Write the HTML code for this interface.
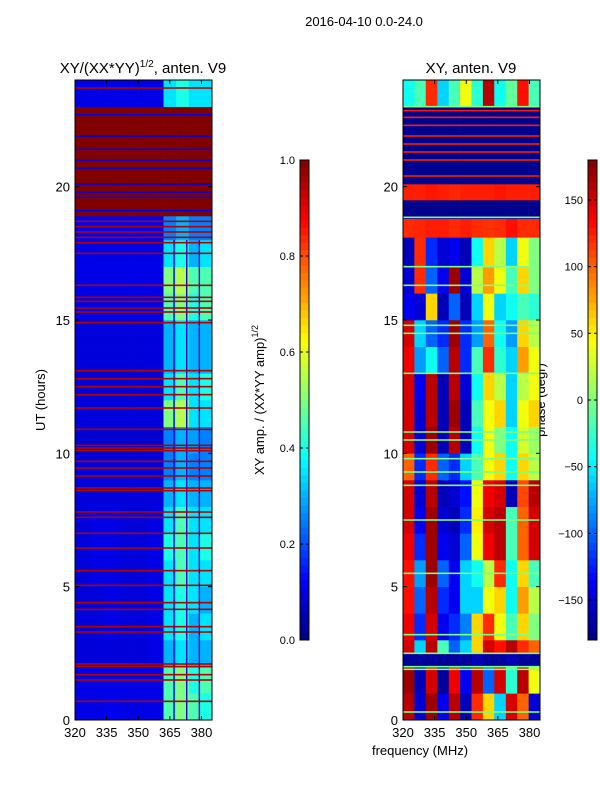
<!DOCTYPE html>
<html><head><meta charset="utf-8">
<style>
html,body{margin:0;padding:0;background:#fff;}
svg{display:block;font-family:"Liberation Sans",sans-serif;}
</style></head>
<body>
<svg id="fig" width="600" height="800" viewBox="0 0 600 800" xmlns="http://www.w3.org/2000/svg">
  <text x="364" y="26" font-size="13" text-anchor="middle">2016-04-10 0.0-24.0</text>
  <text x="143" y="73" font-size="15" text-anchor="middle">XY/(XX*YY)<tspan font-size="10" dy="-6">1/2</tspan><tspan dy="6">, anten. V9</tspan></text>
  <text x="471" y="73" font-size="15" text-anchor="middle">XY, anten. V9</text>
  <text transform="translate(45,400) rotate(-90)" font-size="13" text-anchor="middle">UT (hours)</text>
  <text x="420" y="755" font-size="13" text-anchor="middle">frequency (MHz)</text>
  <text transform="translate(264,400) rotate(-90)" font-size="13" text-anchor="middle">XY amp. / (XX*YY amp)<tspan font-size="9" dy="-6">1/2</tspan></text>
  <text transform="translate(545,400) rotate(-90)" font-size="13" text-anchor="middle">phase (degr)</text>
  <g id="left"></g><g id="right"></g><g id="cbars"></g>
</svg>
<script>
// ---------- data ----------
const timeTicks = [0,5,10,15,20];
const freqTicks = [320,335,350,365,380];
const ampTicks = [0.0,0.2,0.4,0.6,0.8,1.0];
const phaseTicks = [-150,-100,-50,0,50,100,150];

// left panel: amplitude ratio
const leftColEdges = [320,327,334,341,348,355,362,368,374,379,385];
const leftRowEdges = [0,1,2,3,4,5,6,7,8,9,10,11,12,13,14,15,16,17,18,18.9,20,21,22,23,24];
const leftValues = [
 [.1,.1,.11,.1,.1,.1,.45,.5,.45,.4],
 [.1,.1,.1,.1,.1,.1,.45,.5,.4,.45],
 [.09,.09,.09,.09,.09,.1,.3,.35,.3,.3],
 [.09,.09,.1,.09,.09,.1,.35,.4,.3,.35],
 [.09,.09,.1,.09,.09,.1,.35,.4,.35,.3],
 [.09,.1,.1,.09,.09,.1,.35,.45,.35,.35],
 [.09,.1,.1,.09,.09,.1,.4,.45,.35,.4],
 [.09,.1,.1,.09,.09,.1,.35,.45,.35,.35],
 [.09,.09,.09,.09,.09,.09,.3,.35,.3,.3],
 [.09,.09,.09,.09,.09,.09,.25,.3,.25,.25],
 [.08,.08,.08,.08,.08,.08,.25,.3,.28,.25],
 [.09,.09,.09,.09,.09,.09,.5,.55,.35,.35],
 [.09,.09,.09,.09,.09,.09,.35,.45,.35,.4],
 [.09,.09,.09,.09,.09,.09,.3,.35,.3,.3],
 [.09,.09,.09,.09,.09,.09,.3,.35,.3,.3],
 [.1,.1,.1,.1,.1,.1,.45,.5,.4,.45],
 [.1,.1,.1,.1,.1,.1,.5,.55,.45,.45],
 [.1,.1,.1,.1,.1,.1,.35,.4,.3,.35],
 [.11,.11,.11,.11,.11,.11,.25,.3,.25,.25],
 [1,1,1,1,1,1,1,1,1,1],
 [1,1,1,1,1,1,1,1,1,1],
 [1,1,1,1,1,1,1,1,1,1],
 [1,1,1,1,1,1,1,1,1,1],
 [.1,.1,.1,.1,.1,.1,.35,.4,.35,.35]
];
const leftRedLines = [0.7,1.5,1.7,2.0,2.1,3.3,3.5,4.15,4.4,5.05,5.6,6.45,7.0,7.6,7.8,8.6,8.7,9.15,9.45,9.7,10.1,10.2,10.3,10.9,11.7,12.2,12.5,12.8,13.1,14.9,15.3,15.45,15.7,15.85,16.3,17.5,17.9,18.1,18.3,18.5,18.7,23.7];
const leftBlueLines = [19.1,19.6,19.8,20.1,20.7,21.0,21.4,21.9,22.7];
const leftGapFreqs = [367,373,379];

// right panel: phase (deg)
const rightColEdges = [320,325.4,330.8,336.3,341.7,347.1,352.5,357.9,363.3,368.8,374.2,379.6,385];
const rightRowEdges = [0,1,2,2.5,3,4,5,6,7,8,9,10,11,12,13,14,15,16,17,18.1,18.8,19.5,20.1,23,24];
const rightValues = [
 [160,-150,170,-140,160,-160,120,60,-60,150,100,-150],
 [170,-160,150,-170,140,-140,160,-100,150,-30,160,40],
 [-170,-170,-170,-170,-170,-170,-160,-170,-170,-160,-170,-170],
 [150,-60,160,-20,-100,-60,60,150,130,160,120,100],
 [140,-120,150,-140,-120,-90,60,120,40,-20,60,0],
 [130,-100,160,-120,-140,-60,-60,40,60,-40,80,20],
 [130,-80,170,-100,-140,-60,-40,20,120,-40,60,-20],
 [140,-120,170,-140,-150,-100,40,140,160,-20,100,150],
 [150,-140,170,-150,-160,-120,50,150,160,-20,100,150],
 [150,-150,160,-160,-150,-130,40,140,150,-160,110,160],
 [100,-120,120,-100,-120,-60,-20,40,60,-40,60,20],
 [150,-150,170,-160,160,-160,-40,40,0,-40,30,10],
 [150,-150,160,-160,170,-160,-20,40,60,-60,40,60],
 [150,-140,160,-160,160,-150,-40,60,20,-60,20,40],
 [140,-80,-40,-100,160,-120,-20,120,-30,-60,80,40],
 [150,-60,-100,-120,170,-120,-80,100,-40,-80,60,20],
 [-140,-150,60,-160,-100,-160,-60,40,-60,-40,-20,-30],
 [-150,120,-100,-140,170,-150,20,80,40,-20,60,0],
 [-160,120,-120,-150,-140,-160,-40,60,20,-60,40,0],
 [120,122,125,125,120,125,120,118,120,130,120,120],
 [-175,-175,-175,-175,-175,-175,-175,-175,-175,-175,-175,-175],
 [125,125,128,125,122,125,125,125,128,125,125,125],
 [-175,-175,-175,-175,-175,-175,-175,-175,-175,-175,-175,-175],
 [-40,-20,120,-60,-20,40,-30,160,-40,-10,130,-20]
];
const rightOrangeLines = [20.4,21.0,21.3,21.6,21.9,22.3,22.6,22.85];
const rightGreenLines = [0.3,1.9,2.0,2.5,3.2,5.5,7.5,8.8,9.3,9.8,10.5,10.8,13.0,14.5,14.8,16.3,17.0,18.85,23.0];

// ---------- helpers ----------
function jet(v){
  v=Math.max(0,Math.min(1,v));
  const f=(x)=>Math.max(0,Math.min(1,1.5-Math.abs(4*v-x)));
  return `rgb(${Math.round(255*f(3))},${Math.round(255*f(2))},${Math.round(255*f(1))})`;
}
const NS="http://www.w3.org/2000/svg";
function mk(tag,attrs,parent){const e=document.createElementNS(NS,tag);for(const k in attrs)e.setAttribute(k,attrs[k]);parent.appendChild(e);return e;}

const Y0=720,Y1=80;
const yScale=t=>Y0-(t/24)*(Y0-Y1);

function panel(g,x0,x1,colEdges,rowEdges,values,norm,lineSets,gaps,prefix){
  const xs=f=>x0+(f-320)/(385-320)*(x1-x0);
  for(let r=0;r<values.length;r++){
    for(let c=0;c<values[r].length;c++){
      const ya=yScale(rowEdges[r+1]), yb=yScale(rowEdges[r]);
      const xa=xs(colEdges[c]), xb=xs(colEdges[c+1]);
      const e=mk('rect',{x:xa.toFixed(2),y:ya.toFixed(2),width:(xb-xa+0.3).toFixed(2),height:(yb-ya+0.3).toFixed(2),fill:jet(norm(values[r][c]))},g);
      
      
    }
  }
  (gaps||[]).forEach(f=>{
    const e=mk('rect',{x:xs(f)-0.7,y:yScale(18),width:1.4,height:yScale(0)-yScale(18),fill:jet(0.1)},g);
    
    
  });
  lineSets.forEach(ls=>{
    ls.times.forEach(t=>{
      const e=mk('rect',{x:x0,y:yScale(t)-0.8,width:x1-x0,height:1.6,fill:ls.color},g);
      
      
    });
  });
  const fr=mk('rect',{x:x0,y:Y1,width:x1-x0,height:Y0-Y1,fill:'none',stroke:'#000','stroke-width':1},g);
  
  
  timeTicks.forEach(t=>{
    const y=yScale(t);
    mk('line',{x1:x0,x2:x0+4,y1:y,y2:y,stroke:'#000'},g);
    mk('line',{x1:x1,x2:x1-4,y1:y,y2:y,stroke:'#000'},g);
    const tx=mk('text',{x:x0-5,y:y+5,'font-size':13,'text-anchor':'end'},g);
    tx.textContent=t;
    
    
  });
  freqTicks.forEach(f=>{
    const x=xs(f);
    mk('line',{x1:x,x2:x,y1:Y0,y2:Y0-4,stroke:'#000'},g);
    mk('line',{x1:x,x2:x,y1:Y1,y2:Y1+4,stroke:'#000'},g);
    const tx=mk('text',{x:x,y:Y0+17,'font-size':13,'text-anchor':'middle'},g);
    tx.textContent=f;
    
    
  });
}

panel(document.getElementById('left'),75,212,leftColEdges,leftRowEdges,leftValues,v=>v,
  [{times:leftRedLines,color:jet(0.95)},{times:leftBlueLines,color:jet(0.1)}],leftGapFreqs,'amp');
panel(document.getElementById('right'),403,540,rightColEdges,rightRowEdges,rightValues,v=>(v+180)/360,
  [{times:rightOrangeLines,color:jet((125+180)/360)},{times:rightGreenLines,color:jet(0.5)}],null,'phase');

function colorbar(g,x,w,ticks,norm,fmt,prefix){
  const top=160,bot=640,n=64;
  for(let i=0;i<n;i++){
    const e=mk('rect',{x:x,y:bot-(i+1)*(bot-top)/n,width:w,height:(bot-top)/n+0.4,fill:jet((i+0.5)/n)},g);
    
    
  }
  const fr=mk('rect',{x:x,y:top,width:w,height:bot-top,fill:'none',stroke:'#000'},g);
  
  
  ticks.forEach(t=>{
    const y=bot-norm(t)*(bot-top);
    mk('line',{x1:x+w,x2:x+w-3,y1:y,y2:y,stroke:'#000'},g);
    mk('line',{x1:x,x2:x+3,y1:y,y2:y,stroke:'#000'},g);
    const tx=mk('text',{x:x-5,y:y+4,'font-size':11,'text-anchor':'end'},g);
    tx.textContent=fmt(t);
    
    
  });
}
const cb=document.getElementById('cbars');
colorbar(cb,300,9,ampTicks,v=>v,v=>v.toFixed(1),'amp');
colorbar(cb,588,9,phaseTicks,v=>(v+180)/360,v=>v<0?'\u2212'+Math.abs(v):String(v),'phase');
</script>
</body></html>
